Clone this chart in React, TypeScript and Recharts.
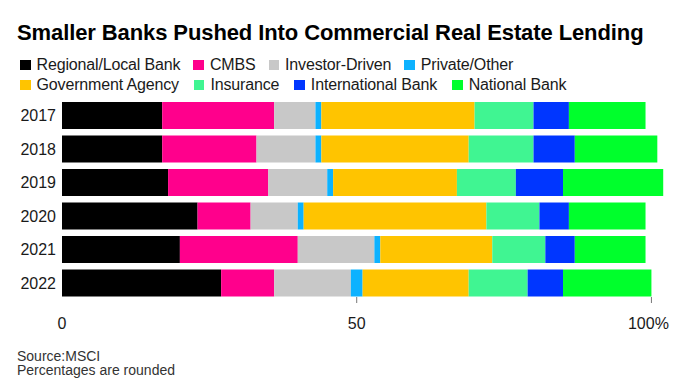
import { BarChart, Bar, XAxis, YAxis } from "recharts";

const YEARS = ["2017", "2018", "2019", "2020", "2021", "2022"];

// shares of CRE lending, % (rounded, so rows don't always hit 100)
const REGIONAL = [17, 17, 18, 23, 20, 27];
const CMBS = [19, 16, 17, 9, 20, 9];
const INVESTOR = [7, 10, 10, 8, 13, 13];
const PRIVATE = [1, 1, 1, 1, 1, 2];
const GOVERNMENT = [26, 25, 21, 31, 19, 18];
const INSURANCE = [10, 11, 10, 9, 9, 10];
const INTERNATIONAL = [6, 7, 8, 5, 5, 6];
const NATIONAL = [13, 14, 17, 13, 12, 15];

const X_TICKS = [0, 50, 100];

const SERIES = [
  { key: "regional", name: "Regional/Local Bank", color: "#000000", values: REGIONAL },
  { key: "cmbs", name: "CMBS", color: "#ff008c", values: CMBS },
  { key: "investor", name: "Investor-Driven", color: "#c8c8c8", values: INVESTOR },
  { key: "private", name: "Private/Other", color: "#0db2ff", values: PRIVATE },
  { key: "government", name: "Government Agency", color: "#ffc400", values: GOVERNMENT },
  { key: "insurance", name: "Insurance", color: "#40f592", values: INSURANCE },
  { key: "international", name: "International Bank", color: "#0036ff", values: INTERNATIONAL },
  { key: "national", name: "National Bank", color: "#00ff2c", values: NATIONAL },
];

const data = YEARS.map((year, i) => {
  const row: Record<string, string | number> = { year };
  SERIES.forEach((s) => { row[s.key] = s.values[i]; });
  return row;
});

const FONT = "'Liberation Sans', Arial, Helvetica, sans-serif";

function YearTick({ x, y, payload }: any) {
  return (
    <text x={x - 6} y={y + 5.7} textAnchor="end" fontSize={16} fill="#1a1a1a" fontFamily={FONT}>
      {payload.value}
    </text>
  );
}

function PctTick({ x, y, payload }: any) {
  const v = payload.value;
  return (
    <g>
      {v !== 0 && <line x1={x} x2={x} y1={y - 3} y2={y + 3} stroke="#777" strokeWidth={1} />}
      <text x={v === 100 ? x - 3 : x} y={y + 29} textAnchor="middle" fontSize={16} fill="#1a1a1a" fontFamily={FONT}>
        {v === 100 ? "100%" : v}
      </text>
    </g>
  );
}

function LegendRow({ items, top, gap }: { items: typeof SERIES; top: number; gap: number }) {
  return (
    <div style={{ position: "absolute", left: 20, top, display: "flex", gap, height: 20, lineHeight: "20px" }}>
      {items.map((s) => (
        <div key={s.key} style={{ display: "flex", alignItems: "center", gap: 6 }}>
          <span style={{ width: 10.5, height: 10, background: s.color, display: "inline-block" }} />
          <span style={{ fontSize: 16, color: "#1a1a1a", letterSpacing: -0.15, whiteSpace: "nowrap" }}>{s.name}</span>
        </div>
      ))}
    </div>
  );
}

export default function App() {
  return (
    <div style={{
      position: "absolute", left: 0, top: 0, width: 675, height: 387,
      background: "#fff", fontFamily: FONT, overflow: "hidden",
    }}>
      <div style={{
        position: "absolute", left: 17, top: 22, fontSize: 22, lineHeight: "22px",
        fontWeight: 700, color: "#000", letterSpacing: -0.1, whiteSpace: "nowrap",
      }}>
        Smaller Banks Pushed Into Commercial Real Estate Lending
      </div>

      <LegendRow items={SERIES.slice(0, 4)} top={55} gap={13} />
      <LegendRow items={SERIES.slice(4)} top={75} gap={15} />

      <div style={{ position: "absolute", left: 0, top: 0 }}>
        <BarChart
          width={675}
          height={387}
          data={data}
          layout="vertical"
          margin={{ top: 99, right: 0, bottom: 57, left: 0 }}
        >
          <XAxis
            type="number"
            domain={[0, 104]}
            ticks={X_TICKS}
            axisLine={false}
            tickLine={false}
            tickSize={0}
            tickMargin={0}
            height={30}
            tick={<PctTick />}
            interval={0}
          />
          <YAxis
            type="category"
            dataKey="year"
            width={62}
            axisLine={false}
            tickLine={false}
            tickSize={0}
            tickMargin={0}
            tick={<YearTick />}
            interval={0}
          />
          {SERIES.map((s) => (
            <Bar
              key={s.key}
              dataKey={s.key}
              name={s.name}
              stackId="a"
              fill={s.color}
              barSize={27}
              isAnimationActive={false}
            />
          ))}
        </BarChart>
      </div>

      <div style={{
        position: "absolute", left: 17, top: 348.6, fontSize: 14, lineHeight: "14.5px", color: "#333",
      }}>
        <div>Source:MSCI</div>
        <div>Percentages are rounded</div>
      </div>
    </div>
  );
}
